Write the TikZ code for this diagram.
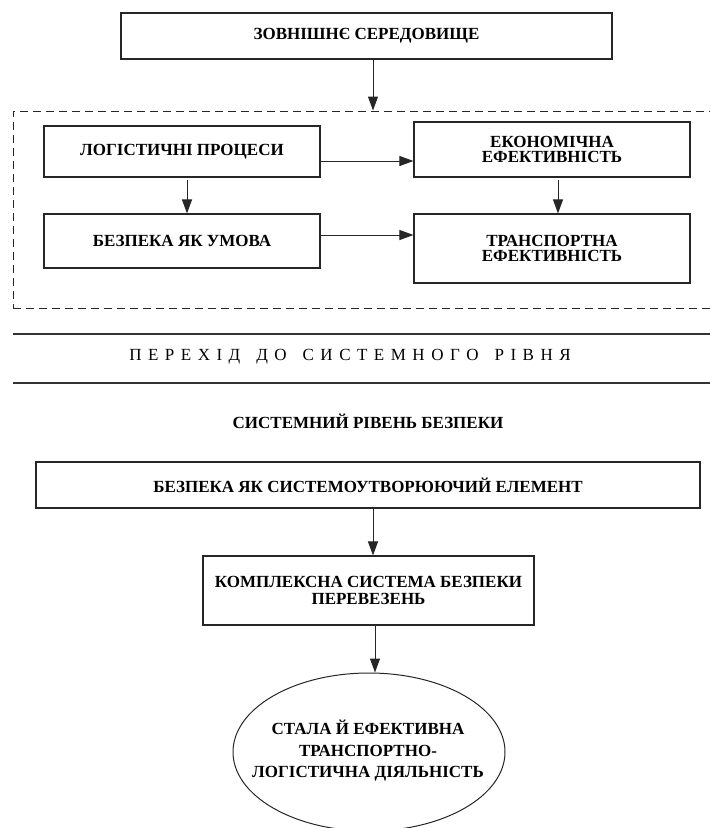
\documentclass[tikz,border=0pt]{standalone}
\usepackage{fontspec}
\setmainfont{Liberation Serif}
\usetikzlibrary{arrows.meta,shapes.geometric}
\newcommand\lsp{\hspace{6.5pt}}
\newcommand\wsp{\hspace{16pt}}
\begin{document}
\begin{tikzpicture}[x=1pt,y=-1pt,
  box/.style={draw=black!85,line width=1.1pt,rectangle,inner sep=0pt,align=center,
    font=\fontsize{17}{15.5}\selectfont\bfseries},
  arr/.style={draw=black!85,line width=1pt,-{Triangle[length=14pt,width=10pt]}},
  sep/.style={draw=black!80,line width=1.3pt},
  head/.style={font=\fontsize{17}{20}\selectfont\bfseries,inner sep=0pt}]
\useasboundingbox (0,0) rectangle (710,828);
\clip (0,0) rectangle (710,828);

% top
\node[box,minimum width=491pt,minimum height=46pt] (top) at (366.5,36) {ЗОВНІШНЄ СЕРЕДОВИЩЕ};

% dashed group
\node[draw=black!85,line width=1pt,dash pattern=on 8pt off 5pt,rectangle,inner sep=0pt,
  minimum width=702pt,minimum height=197pt] (grp) at (364,209.5) {};

\node[box,minimum width=276pt,minimum height=51pt] (log) at (182,151.5) {ЛОГІСТИЧНІ ПРОЦЕСИ};
\node[box,minimum width=276pt,minimum height=55pt] (eko) at (552,149.5) {ЕКОНОМІЧНА\\ЕФЕКТИВНІСТЬ};
\node[box,minimum width=276pt,minimum height=54pt] (bez) at (182,241) {БЕЗПЕКА ЯК УМОВА};
\node[box,minimum width=276pt,minimum height=69pt] (tran) at (552,248.5) {ТРАНСПОРТНА\\ЕФЕКТИВНІСТЬ};

% separator
\draw[sep] (13,334) -- (710,334);
\draw[sep] (13,383) -- (710,383);
\node[font=\fontsize{17}{20}\selectfont,inner sep=0pt] (trans) at (350,357)
  {П\lsp Е\lsp Р\lsp Е\lsp Х\lsp І\lsp Д\wsp Д\lsp О\wsp С\lsp И\lsp С\lsp Т\lsp Е\lsp М\lsp Н\lsp О\lsp Г\lsp О\wsp Р\lsp І\lsp В\lsp Н\lsp Я};

\node[head] (syshead) at (368,421) {СИСТЕМНИЙ РІВЕНЬ БЕЗПЕКИ};

\node[box,minimum width=664pt,minimum height=46pt] (sys) at (368,485) {БЕЗПЕКА ЯК СИСТЕМОУТВОРЮЮЧИЙ ЕЛЕМЕНТ};
\node[box,minimum width=331pt,minimum height=69pt,font=\fontsize{17}{17}\selectfont\bfseries] (kompl) at (368.5,590.5) {КОМПЛЕКСНА СИСТЕМА БЕЗПЕКИ\\ПЕРЕВЕЗЕНЬ};
\node[draw=black!85,line width=1pt,ellipse,inner sep=0pt,minimum width=272pt,minimum height=158pt] (ell) at (369,752) {};
\node[align=center,inner sep=0pt,font=\fontsize{17}{21.5}\selectfont\bfseries] (elltext) at (368,751) {СТАЛА Й ЕФЕКТИВНА\\ТРАНСПОРТНО-\\ЛОГІСТИЧНА ДІЯЛЬНІСТЬ};

% connectors
\coordinate (a1) at ([xshift=6.5pt]top.south);
\draw[arr] (a1) -- (a1 |- grp.north);
\coordinate (a2) at ([yshift=-9.5pt]log.east);
\draw[arr] (a2) -- (a2 -| eko.west);
\coordinate (a3) at ([xshift=5pt,yshift=-2pt]log.south);
\draw[arr] (a3) -- (a3 |- bez.north);
\coordinate (a4) at ([xshift=6pt,yshift=-2pt]eko.south);
\draw[arr] (a4) -- (a4 |- tran.north);
\coordinate (a5) at ([yshift=6pt]bez.east);
\draw[arr] (a5) -- (a5 -| tran.west);
\coordinate (a6) at ([xshift=5pt]sys.south);
\draw[arr] (a6) -- (a6 |- kompl.north);
\coordinate (a7) at ([xshift=6.5pt]kompl.south);
\draw[arr] (a7) -- (a7 |- ell.north);
\end{tikzpicture}
\end{document}
